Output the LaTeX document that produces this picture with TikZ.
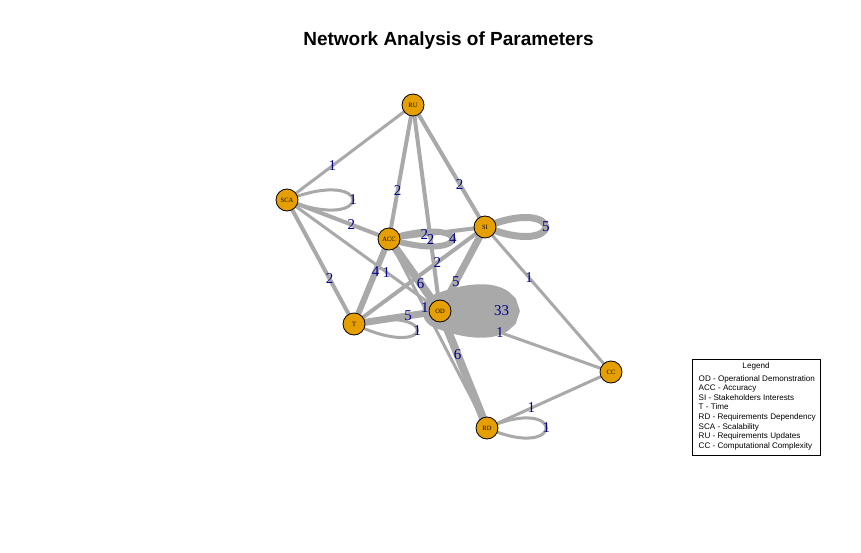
\documentclass[tikz,border=0pt]{standalone}
\usepackage{fontspec}
\setmainfont{Liberation Serif}
\setsansfont{Liberation Sans}
\usetikzlibrary{backgrounds}
\definecolor{edgegray}{HTML}{A9A9A9}
\definecolor{nodeorange}{HTML}{E69F00}
\definecolor{labblue}{HTML}{00008B}
\begin{document}
\begin{tikzpicture}[x=1pt,y=-1pt,
  vtx/.style={circle,draw=black,line width=0.8pt,fill=nodeorange,minimum size=22pt,inner sep=0pt,font=\fontsize{6.5}{7}\selectfont},
  ew/.style={draw=edgegray,line width=#1pt,line cap=round},
  elab/.style={text=labblue,font=\fontsize{15}{15}\selectfont,inner sep=0pt},
  legtxt/.style={font=\sffamily\fontsize{8.1}{9}\selectfont,inner sep=0pt,anchor=west,text height=5.8pt,text depth=1.6pt},
  titletxt/.style={font=\sffamily\bfseries\fontsize{19}{20}\selectfont,inner sep=0pt}]
\useasboundingbox (0,0) rectangle (861,553);

% title
\node[titletxt] (title) at (448.5,41) {Network Analysis of Parameters};

% vertices
\node[vtx] (RU)  at (413,105) {RU};
\node[vtx] (SCA) at (287,200) {SCA};
\node[vtx] (ACC) at (389,239) {ACC};
\node[vtx] (SI)  at (485,227) {SI};
\node[vtx] (T)   at (354,324) {T};
\node[vtx] (OD)  at (440,311) {OD};
\node[vtx] (CC)  at (611,372) {CC};
\node[vtx] (RD)  at (487,428) {RD};

\begin{pgfonlayer}{background}
\fill[white] (0,0) rectangle (861,553);
% loops
\draw[ew=35] (OD.center) .. controls +(82,-32) and +(82,32) .. (OD.center) coordinate[pos=0.5] (lOD);
\draw[ew=3] (SCA.center) .. controls +(88,-35) and +(88,35) .. (SCA.center) coordinate[pos=0.5] (lSCA);
\draw[ew=7] (SI.center) .. controls +(81,-33) and +(81,33) .. (SI.center) coordinate[pos=0.5] (lSI);
\draw[ew=6] (ACC.center) .. controls +(85,-26) and +(85,26) .. (ACC.center) coordinate[pos=0.5] (lACC);
\draw[ew=3] (T.center) .. controls +(88,-21) and +(81,39) .. (T.center) coordinate[pos=0.5] (lT);
\draw[ew=3] (RD.center) .. controls +(79,-35) and +(79,35) .. (RD.center) coordinate[pos=0.5] (lRD);
% straight edges
\draw[ew=3] (RU.center) -- (SCA.center) coordinate[pos=0.64] (e1);
\draw[ew=4] (RU.center) -- (ACC.center) coordinate[pos=0.64] (e2);
\draw[ew=4] (RU.center) -- (SI.center) coordinate[pos=0.648] (e3);
\draw[ew=4] (RU.center) -- (OD.center) coordinate[pos=0.655] (e4);
\draw[ew=4] (SCA.center) -- (ACC.center) coordinate[pos=0.63] (e5);
\draw[ew=4] (SCA.center) -- (T.center) coordinate[pos=0.637] (e6);
\draw[ew=3] (SCA.center) -- (OD.center) coordinate[pos=0.65] (e7);
\draw[ew=4] (SI.center) -- (ACC.center) coordinate[pos=0.632] (e8);
\draw[ew=6] (T.center) -- (ACC.center) coordinate[pos=0.616] (e9);
\draw[ew=8] (ACC.center) -- (OD.center) coordinate[pos=0.62] (e10);
\draw[ew=3] (RD.center) -- (ACC.center) coordinate[pos=0.635] (e11);
\draw[ew=4] (T.center) -- (SI.center) coordinate[pos=0.636] (e12);
\draw[ew=7] (SI.center) -- (OD.center) coordinate[pos=0.647] (e13);
\draw[ew=3] (CC.center) -- (SI.center) coordinate[pos=0.65] (e14);
\draw[ew=7] (T.center) -- (OD.center) coordinate[pos=0.63] (e15);
\draw[ew=3] (CC.center) -- (OD.center) coordinate[pos=0.65] (e16);
\draw[ew=8] (RD.center) -- (OD.center) coordinate[pos=0.624] (e17);
\draw[ew=3] (CC.center) -- (RD.center) coordinate[pos=0.643] (e18);
\end{pgfonlayer}

% edge labels
\node[elab] at (lOD) {33};
\node[elab] at (lSCA) {1};
\node[elab] at (lSI) {5};
\node[elab] at (lACC) {4};
\node[elab] at (lT) {1};
\node[elab] at (lRD) {1};
\node[elab] at (e1) {1};
\node[elab] at (e2) {2};
\node[elab] at (e3) {2};
\node[elab] at (e4) {2};
\node[elab] at (e5) {2};
\node[elab] at (e6) {2};
\node[elab] at (e7) {1};
\node[elab] at (e8) {2};
\node[elab] at (e9) {4};
\node[elab] at (e10) {6};
\node[elab] at (e11) {1};
\node[elab] at (e12) {2};
\node[elab] at (e13) {5};
\node[elab] at (e14) {1};
\node[elab] at (e15) {5};
\node[elab] at (e16) {1};
\node[elab] at (e17) {6};
\node[elab] at (e18) {1};

% legend
\node[draw=black,line width=0.8pt,minimum width=128pt,minimum height=96pt,anchor=north west,inner sep=0pt] (legbox) at (692,359) {};
\node[legtxt,anchor=center] (legtitle) at (756,366.5) {Legend};
\node[legtxt] (l1) at (698.5,379) {OD - Operational Demonstration};
\node[legtxt] (l2) at (698.5,388.6) {ACC - Accuracy};
\node[legtxt] (l3) at (698.5,398.2) {SI - Stakeholders Interests};
\node[legtxt] (l4) at (698.5,407.8) {T - Time};
\node[legtxt] (l5) at (698.5,417.4) {RD - Requirements Dependency};
\node[legtxt] (l6) at (698.5,427) {SCA - Scalability};
\node[legtxt] (l7) at (698.5,436.6) {RU - Requirements Updates};
\node[legtxt] (l8) at (698.5,446.2) {CC - Computational Complexity};
\end{tikzpicture}
\end{document}
